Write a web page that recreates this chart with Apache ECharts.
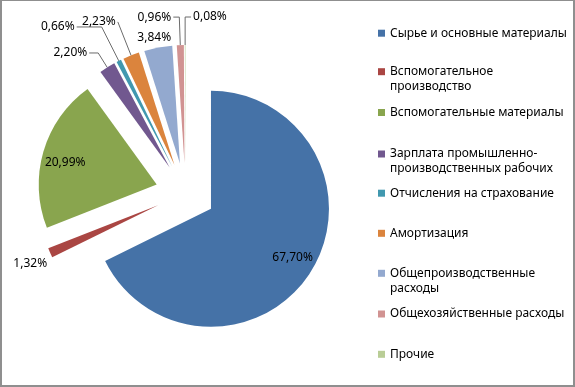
<!DOCTYPE html>
<html>
<head>
<meta charset="utf-8">
<script src="https://cdn.jsdelivr.net/npm/echarts@6/dist/echarts.min.js"></script>
<style>
  html, body { margin: 0; padding: 0; background: #fff; }
  #chart {
    width: 575px; height: 387px; box-sizing: border-box;
    border-style: solid; border-color: #8f8f8f;
    border-width: 1px 2px 2px 2px;
  }
</style>
</head>
<body>
<div id="chart"></div>
<script>
// данные диаграммы (доли затрат, %)
const categories = [
  'Сырье и основные материалы',
  'Вспомогательное производство',
  'Вспомогательные материалы',
  'Зарплата промышленно-производственных рабочих',
  'Отчисления на страхование',
  'Амортизация',
  'Общепроизводственные расходы',
  'Общехозяйственные расходы',
  'Прочие'
];
const shares = [67.70, 1.32, 20.99, 2.20, 0.66, 2.23, 3.84, 0.96, 0.08];
const colors = ['#4572a7', '#aa4643', '#89a54e', '#71588f', '#4198af',
                '#db843d', '#93a9cf', '#d19392', '#b9cd96'];

// подписи легенды с переносами строк
// (пустая первая строка нужна, чтобы значок стоял напротив первой строки текста)
const legendText = {
  'Вспомогательное производство': '\nВспомогательное\nпроизводство',
  'Зарплата промышленно-производственных рабочих': '\nЗарплата промышленно-\nпроизводственных рабочих',
  'Общепроизводственные расходы': '\nОбщепроизводственные\nрасходы'
};

// оформление подписей: положение, длины выносок и сдвиги
const labelPos   = ['inside', 'outside', 'inside', 'outside', 'outside', 'outside', 'outside', 'outside', 'outside'];
const lineShow   = [false, false, false, true, true, true, false, true, true];
const lineLen    = [0, 0, 0, 17, 38, 36, 0, 28, 28];
const lineLen2   = [0, 0, 0, 9, 25, 0, 0, 6, -6];
const labelShift = [[29, 16], [-1, 11], [-32, -5], [0, 0], [0, 0], [0, 0], [15, -10], [0, 0], [4, 0]];
const legendY    = [32.2, 70.7, 111.5, 153, 192.2, 232.3, 272.3, 313, 353.3];

const FONT = 'Noto Sans';
const fmt = v => v.toFixed(2).replace('.', ',') + '%';

const chart = echarts.init(document.getElementById('chart'), null, { renderer: 'canvas' });

const pieData = categories.map((name, i) => ({
  name: name,
  value: shares[i],
  selected: true,
  itemStyle: { color: colors[i] },
  label: { position: labelPos[i] },
  labelLine: { show: lineShow[i], length: lineLen[i], length2: lineLen2[i] }
}));

// одна легенда на пункт, чтобы шаг был как в оригинале
const legends = categories.map((name, i) => {
  const multi = !!legendText[name];
  return {
    data: [name],
    orient: 'vertical',
    left: 376,
    top: legendY[i] - (multi ? 22.5 : 7.5),
    padding: 0,
    icon: 'rect',
    itemWidth: 7,
    itemHeight: 7,
    itemGap: 0,
    selectedMode: false,
    formatter: n => legendText[n] || n,
    textStyle: { fontFamily: FONT, fontSize: 12, color: '#000', lineHeight: 15 }
  };
});

const option = {
  backgroundColor: 'transparent',
  animation: false,
  legend: legends,
  series: [{
    type: 'pie',
    center: [183.5, 192],
    radius: 118,
    startAngle: 90,
    clockwise: true,
    selectedMode: 'multiple',
    selectedOffset: 30,
    avoidLabelOverlap: false,
    itemStyle: { borderWidth: 0 },
    select: { itemStyle: { borderWidth: 0 } },
    emphasis: { disabled: true },
    label: {
      show: true,
      fontFamily: FONT,
      fontSize: 12,
      color: '#000',
      distanceToLabelLine: 2,
      formatter: p => fmt(p.value)
    },
    labelLine: {
      lineStyle: { color: '#6b6b6b', width: 1 }
    },
    labelLayout: p => {
      const s = labelShift[p.dataIndex];
      const o = { dx: s[0], dy: s[1] };
      if (p.dataIndex === 8) o.align = 'left';
      return o;
    },
    data: pieData
  }]
};

chart.setOption(option);
</script>
</body>
</html>
